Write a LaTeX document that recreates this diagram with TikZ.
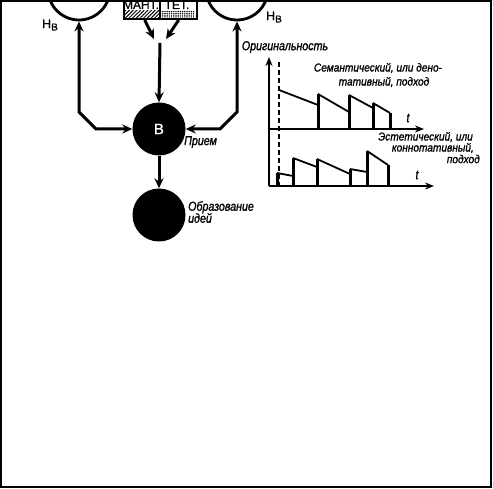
\documentclass[tikz,border=0pt]{standalone}
\usepackage{fontspec}
\setmainfont{Liberation Sans}
\newfontfamily\labf[FakeStretch=0.82,FakeBold=1.2]{Liberation Sans}
\newfontfamily\glabf[FakeStretch=0.88,FakeBold=1.2]{Liberation Sans}
\newfontfamily\upf[FakeBold=1]{Liberation Sans}
\usetikzlibrary{arrows.meta,patterns.meta}
\begin{document}
\begin{tikzpicture}[x=1pt,y=-1pt,
  conn/.style={line width=3pt,-{Stealth[length=10pt,width=9pt]}},
  dconn/.style={line width=3pt,{Stealth[length=10pt,width=9pt]}-{Stealth[length=10pt,width=9pt]}},
  ring/.style={circle,draw,line width=2.8pt,minimum size=62pt,inner sep=0pt},
  disk/.style={circle,fill=black,minimum size=53pt,inner sep=0pt},
  lab/.style={font=\labf\itshape\fontsize{13}{13}\selectfont,inner sep=0pt},
  glab/.style={font=\glabf\itshape\fontsize{11.5}{10}\selectfont,inner sep=0pt},
  axis/.style={line width=2.2pt,-{Stealth[length=9pt,width=7pt]}},
  barline/.style={line width=3pt},
  slope/.style={line width=1.8pt}]
\useasboundingbox (0,0) rectangle (493,489);
\draw[line width=2pt] (1,1) rectangle (491,487);
% top circles
\node[ring] (hl) at (79,-11) {};
\node[ring] (hr) at (237,-11) {};
\node[font=\upf\fontsize{12.5}{12}\selectfont,inner sep=0pt] (hlt) at (50,25) {Н\raisebox{-0.35ex}{\fontsize{10}{9}\selectfont В}};
\node[font=\upf\fontsize{12.5}{12}\selectfont,inner sep=0pt] (hrt) at (274,17) {Н\raisebox{-0.35ex}{\fontsize{10}{9}\selectfont В}};
% box
\node[draw,line width=2.4pt,minimum width=73pt,minimum height=34pt,inner sep=0pt,anchor=south west] (box) at (123,20) {};
\fill[pattern={Lines[angle=45,distance=2.6pt,line width=1pt]}] (125,11) rectangle (159,18);
\fill[pattern={Dots[radius=0.8pt,distance=2.2pt]}] (161,11) rectangle (194,18);
\draw[line width=1.8pt] (160,-14) -- (160,20);
\node[font=\upf\fontsize{12}{11}\selectfont,inner sep=0pt,anchor=base] (mant) at (141,9) {МАНТ.};
\node[font=\upf\fontsize{12}{11}\selectfont,inner sep=0pt,anchor=base] (tet) at (177,9) {ТЕТ.};
% center nodes
\node[disk,text=white,font=\upf\fontsize{15}{15}\selectfont] (B) at (159,129) {В};
\node[disk] (I) at (159,215) {};
\coordinate (ml) at (154,39);
\coordinate (mr) at (166,39);
\coordinate (m) at (160,43);
\draw[conn] ([xshift=-16pt]box.south) -- (ml);
\draw[conn] ([xshift=18pt]box.south) -- (mr);
\draw[conn] (m) -- (B.north);
\draw[conn] (B.south) -- (I.north);
\draw[dconn] (hl.south) -- (79,112) -- (96,129) -- (B.west);
\draw[dconn] (hr.south) -- (237,112) -- (220,129) -- (B.east);
\node[lab,anchor=west] (pr) at (184,142) {Прием};
\node[lab,anchor=north west,align=left] (obr) at (188,201) {Образование\\[-1pt]идей};
% graph
\node[lab] (orig) at (285,47) {Оригинальность};
\coordinate (o) at (269,186);
\coordinate (mid) at (269,129);
\draw[axis] (o) -- (269,57);
\draw[axis] (mid) -- (424,129);
\draw[axis] (o) -- (434,186);
\draw[line width=2.2pt,dash pattern=on 5pt off 3pt] (279,62) -- (279,186);
% upper saw
\draw[barline] (318,129) -- (318,94) (349,129) -- (349,95) (373,129) -- (373,103) (390,129) -- (390,113);
\draw[slope] (279,90) -- (318,105) (318,94) -- (349,112) (349,95) -- (373,108) (373,103) -- (390,113);
% lower saw
\draw[barline] (277,186) -- (277,173) (293,186) -- (293,158) (317,186) -- (317,159) (350,186) -- (350,169) (367,186) -- (367,151) (388,186) -- (388,165);
\draw[slope] (277,173) -- (293,176) (293,158) -- (317,167) (317,159) -- (350,174) (350,169) -- (367,172) (367,151) -- (388,165);
\node[lab] (t1) at (408,118) {t};
\node[lab] (t2) at (417,175) {t};
\node[glab] (s1) at (378,68) {Семантический, или дено-};
\node[glab] (s2) at (384,82) {тативный, подход};
\node[glab,anchor=east] (e1) at (473,137) {Эстетический, или};
\node[glab,anchor=east] (e2) at (474,148) {коннотативный,};
\node[glab,anchor=east] (e3) at (480,159) {подход};
\end{tikzpicture}
\end{document}
